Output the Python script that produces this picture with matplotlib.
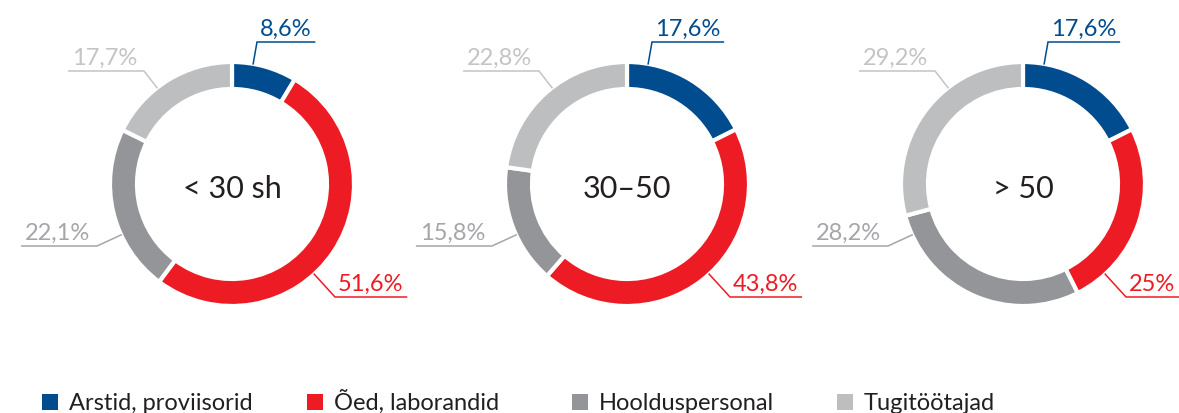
import matplotlib
matplotlib.use('Agg')
import matplotlib.pyplot as plt

groups = ['< 30 sh', '30–50', '> 50']
categories = ['Arstid, proviisorid', 'Õed, laborandid', 'Hoolduspersonal', 'Tugitöötajad']
arstid = [8.6, 17.6, 17.6]
oed = [51.6, 43.8, 25.0]
hooldus = [22.1, 15.8, 28.2]
tugi = [17.7, 22.8, 29.2]

colors = ['#004C8F', '#ED1C24', '#939598', '#BCBEC0']
label_colors = ['#004C8F', '#ED1C24', '#A4A6A9', '#C3C4C6']

W, H = 1179, 414
plt.rcParams['font.family'] = ['Lato', 'DejaVu Sans']

fig = plt.figure(figsize=(W / 100, H / 100), dpi=100)
ax = fig.add_axes([0, 0, 1, 1])

centers_x = [232, 627, 1023]
cy = H - 185
R, ring = 122, 27

# leader elbows relative to the donut centre (blue, red, dark grey, light grey)
elbows = [(25, 142), (103, -113), (-135, -62), (-88, 113)]
sides = ['right', 'right', 'left', 'left']

for i, g in enumerate(groups):
    vals = [arstid[i], oed[i], hooldus[i], tugi[i]]
    ax.pie(vals, colors=colors, startangle=90, counterclock=False,
           center=(centers_x[i], cy), radius=R,
           wedgeprops=dict(width=ring, edgecolor='white', linewidth=3))

ax.set_xlim(0, W)
ax.set_ylim(0, H)
ax.set_aspect('equal')
ax.axis('off')

renderer = fig.canvas.get_renderer()
inv = ax.transData.inverted()

for i, g in enumerate(groups):
    cx = centers_x[i]
    vals = [arstid[i], oed[i], hooldus[i], tugi[i]]
    ax.text(cx, cy - 13, g, ha='center', va='baseline', fontsize=22, color='#231F20')
    for j, v in enumerate(vals):
        ex, ey = cx + elbows[j][0], cy + elbows[j][1]
        d = (elbows[j][0] ** 2 + elbows[j][1] ** 2) ** 0.5
        sx, sy = cx + elbows[j][0] * R / d, cy + elbows[j][1] * R / d
        txt = f'{v:g}'.replace('.', ',') + '%'
        c = label_colors[j]
        if sides[j] == 'right':
            t = ax.text(ex + 3, ey + 7, txt, ha='left', va='baseline', fontsize=17, color=c)
        else:
            t = ax.text(ex - 7, ey + 7, txt, ha='right', va='baseline', fontsize=17, color=c)
        bb = t.get_window_extent(renderer).transformed(inv)
        if sides[j] == 'right':
            x_end = bb.x1 + 3
        else:
            x_end = bb.x0 - 3
        ax.plot([sx, ex, x_end], [sy, ey, ey], color=c, lw=1.1, solid_joinstyle='miter')

# legend
leg_x = [42, 307, 572, 837]
for k, name in enumerate(categories):
    ax.scatter([leg_x[k] + 8], [H - 403], marker='s', s=118, color=colors[k], linewidths=0)
    ax.text(leg_x[k] + 27, H - 410, name, ha='left', va='baseline', fontsize=17, color='#231F20')

fig.savefig('out.png', dpi=100)
